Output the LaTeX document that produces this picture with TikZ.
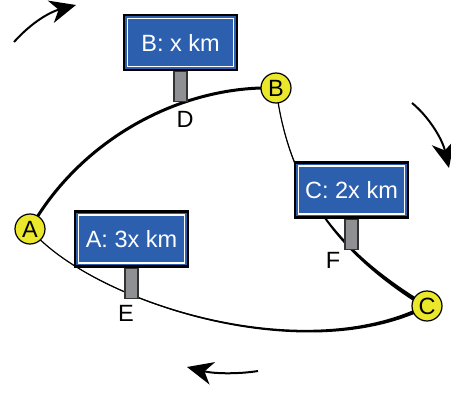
\documentclass[tikz,border=0pt]{standalone}
\usepackage{fontspec}
\setmainfont{Liberation Sans}
\usetikzlibrary{positioning, arrows.meta, backgrounds}
\definecolor{signblue}{HTML}{2C5FAE}
\definecolor{stopyellow}{HTML}{EBE82B}
\definecolor{postgray}{HTML}{8F9094}

\begin{document}
\begin{tikzpicture}[x=1pt, y=-1pt,
    font=\fontsize{23.5}{26}\selectfont,
    stop/.style={circle, draw=black, line width=1.2pt, fill=stopyellow, minimum size=30pt, inner sep=0pt},
    sign/.style={draw=black, line width=2.2pt, fill=signblue, text=white, minimum width=113pt, minimum height=55pt, inner sep=0pt,
      path picture={\draw[white, line width=1.4pt] ([shift={(3.6pt,3.6pt)}]path picture bounding box.south west) rectangle ([shift={(-3.6pt,-3.6pt)}]path picture bounding box.north east);}},
    post/.style={draw=black!80, line width=1.2pt, fill=postgray, minimum width=13pt, minimum height=30pt, inner sep=0pt},
    road/.style={line width=1.2pt},
    turn/.style={line width=2pt, -{Stealth[length=26pt, width=23pt, inset=8pt]}}]
        \useasboundingbox (0,0) rectangle (451,393);
        % stops
        \node[stop] (A) at (30,229) {A};
        \node[stop] (B) at (276,88) {B};
        \node[stop] (C) at (427,306) {C};
        % signs with posts
        \node[sign] (signB) at (180.5,42.5) {B: x km};
        \node[sign] (signC) at (351.5,190) {C: 2x km};
        \node[sign] (signA) at (131.5,239) {A: 3x km};
        \node[post, below=0pt of signB] (postB) {};
        \node[post, below=0pt of signC] (postC) {};
        \node[post, below=0pt of signA] (postA) {};
        \node (D) at (185,119) {D};
        \node (E) at (126,313) {E};
        \node (F) at (333,260) {F};
        \begin{scope}[on background layer]
          \draw[line width=3pt] (A.center) .. controls (80,140) and (180,85) .. (B.center);
          % roads getting wider towards C
          \draw[road] (B.center) .. controls (290,200) and (350,260) .. (C.center);
          \fill (B.center) .. controls (289.6,200.2) and (349,261.3) .. ([shift={(-1.2,2.9)}]C.center)
            -- ([shift={(1.2,-0.9)}]C.center) .. controls (351,258.7) and (290.4,199.8) .. (B.center) -- cycle;
          \draw[road] (A.center) .. controls (90,300) and (300,370) .. (C.center);
          \fill (A.center) .. controls (89.8,300.2) and (300,371.4) .. ([shift={(0.9,1.8)}]C.center)
            -- ([shift={(-0.9,-1.8)}]C.center) .. controls (300,368.6) and (90.2,299.8) .. (A.center) -- cycle;
        \end{scope}
        % direction of travel
        \coordinate (t1s) at (14,42);
        \coordinate (t1e) at (76,5);
        \coordinate (t2s) at (412,103);
        \coordinate (t2e) at (449,168);
        \coordinate (t3s) at (258,371);
        \coordinate (t3e) at (187,367);
        \draw[turn] (t1s) .. controls (32,22) and (50,12) .. (t1e);
        \draw[turn] (t2s) .. controls (428,116) and (442,138) .. (t2e);
        \draw[turn] (t3s) .. controls (240,374) and (215,374) .. (t3e);
\end{tikzpicture}
\end{document}
